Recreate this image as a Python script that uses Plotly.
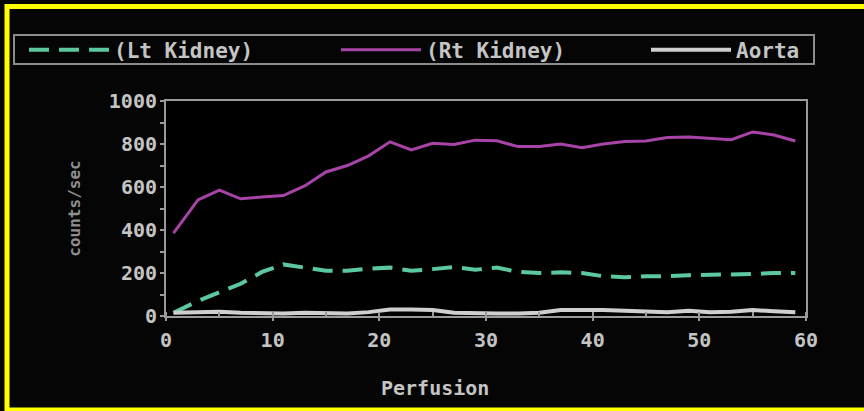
import plotly.graph_objects as go

# ---- data ----
perfusion = [0.7, 3, 5, 7, 9, 11, 13, 15, 17, 19, 21, 23, 25, 27, 29, 31, 33, 35, 37, 39,
             41, 43, 45, 47, 49, 51, 53, 55, 57, 59]
lt_kidney = [15, 70, 110, 150, 205, 240, 225, 210, 210, 220, 225, 210, 218, 228, 215, 225,
             205, 200, 203, 200, 185, 180, 185, 185, 190, 192, 190, 195, 200, 200]
rt_kidney = [385, 540, 585, 545, 553, 560, 605, 670, 700, 745, 810, 772, 803, 798, 818, 815,
             788, 788, 800, 783, 800, 812, 814, 830, 833, 828, 820, 856, 842, 814]
aorta = [15, 20, 20, 15, 12, 12, 15, 15, 12, 18, 30, 30, 28, 15, 12, 12,
         12, 15, 28, 30, 28, 25, 20, 18, 25, 18, 20, 28, 22, 18]
series_names = ["(Lt Kidney)", "(Rt Kidney)", "Aorta"]
y_ticks = [0, 200, 400, 600, 800, 1000]
x_ticks = [0, 10, 20, 30, 40, 50, 60]

W, H = 864, 411
L, R, T, B = 166, 58, 101, 95
PW, PH = W - L - R, H - T - B


def px(xp):
    return (xp - L) / PW


def py(yp):
    return (H - B - yp) / PH


FONT = "DejaVu Sans Mono"
TXT = "#c4c4c4"
FRAME = "#9a9a9a"

fig = go.Figure()
fig.add_trace(go.Scatter(x=perfusion, y=lt_kidney, name=series_names[0], mode="lines",
                         legend="legend",
                         line=dict(color="#5cc8a0", width=4, dash="20px,10px")))
fig.add_trace(go.Scatter(x=perfusion, y=rt_kidney, name=series_names[1], mode="lines",
                         legend="legend2",
                         line=dict(color="#a844a8", width=3)))
fig.add_trace(go.Scatter(x=perfusion, y=aorta, name=series_names[2], mode="lines",
                         legend="legend3",
                         line=dict(color="#cfcfcf", width=4)))

shapes = [
    # yellow outer frame
    dict(type="rect", xref="paper", yref="paper", x0=px(7), x1=px(870), y0=py(410), y1=py(6.5),
         line=dict(color="#ffff00", width=5), layer="above"),
    # legend frame
    dict(type="rect", xref="paper", yref="paper", x0=px(14), x1=px(814), y0=py(64), y1=py(35),
         line=dict(color="#8c8c8c", width=2)),
]


def leg(x_sym):
    return dict(orientation="h", x=px(x_sym - 6), y=py(50), xanchor="left", yanchor="middle",
                bgcolor="rgba(0,0,0,0)", borderwidth=0, itemwidth=80,
                font=dict(family=FONT, size=21, color=TXT, weight="bold"))


fig.update_layout(
    width=W, height=H,
    margin=dict(l=L, r=R, t=T, b=B, autoexpand=False),
    paper_bgcolor="#050505", plot_bgcolor="#000000",
    font=dict(family=FONT, color=TXT, size=19, weight="bold"),
    showlegend=True,
    legend=leg(30),
    legend2=leg(342),
    legend3=leg(652),
    shapes=shapes,
    xaxis=dict(range=[0, 60], tickvals=x_ticks, showgrid=False, zeroline=False,
               showline=True, linecolor=FRAME, linewidth=2, mirror=True, automargin=False,
               ticks="outside", ticklen=3, tickcolor=FRAME, tickwidth=2,
               ticklabelstandoff=2,
               minor=dict(dtick=5, ticks="inside", ticklen=4, tickcolor=FRAME),
               tickfont=dict(family=FONT, size=20, color=TXT, weight="bold")),
    yaxis=dict(range=[0, 1000], tickvals=y_ticks, showgrid=False, zeroline=False,
               showline=True, linecolor=FRAME, linewidth=2, mirror=True, automargin=False,
               ticks="outside", ticklen=3, tickcolor=FRAME, tickwidth=2,
               minor=dict(dtick=100, ticks="outside", ticklen=4, tickcolor=FRAME),
               tickfont=dict(family=FONT, size=20, color=TXT, weight="bold"),
               title=dict(text="counts/sec", standoff=24,
                          font=dict(family=FONT, size=16, color="#8e8e8e", weight="bold"))),
    annotations=[
        dict(text="Perfusion", xref="paper", yref="paper", x=px(435), y=py(388),
             xanchor="center", yanchor="middle", showarrow=False,
             font=dict(family=FONT, size=20, color=TXT, weight="bold")),
    ],
)

fig.write_html("out.html", config={"displayModeBar": False},
               post_script="document.body.style.margin='0';")
